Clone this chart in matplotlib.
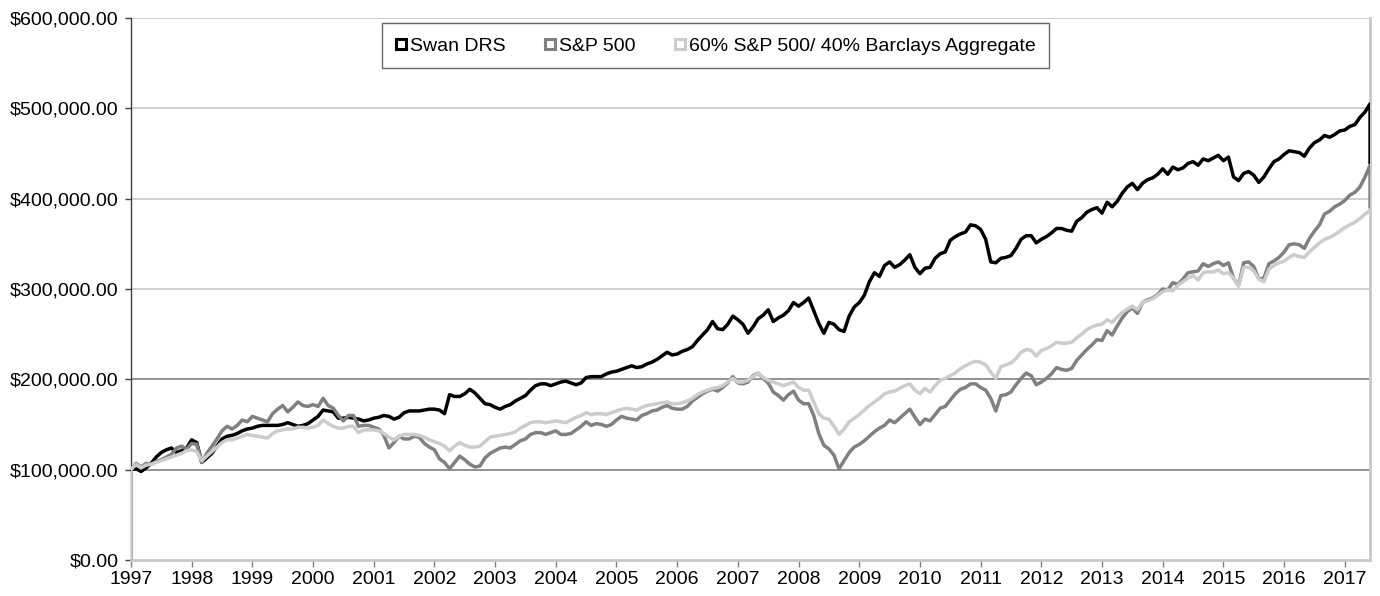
import numpy as np
import matplotlib

matplotlib.use("Agg")

import matplotlib.pyplot as plt
from matplotlib.lines import Line2D
from matplotlib.ticker import FuncFormatter

# monthly growth of $100,000, values in $ thousands, Jan 1997 .. mid 2017
swan_drs = [
    100, 101, 98, 102, 107, 114, 119, 122, 124, 119, 121, 124,
    133, 130, 108, 113, 118, 126, 134, 137, 138, 140, 143, 145,
    146, 148, 149, 149, 149, 149, 150, 152, 150, 148, 149, 151,
    155, 159, 166, 165, 164, 157, 157, 158, 157, 156, 154, 155,
    157, 158, 160, 159, 156, 158, 163, 165, 165, 165, 166, 167,
    167, 166, 162, 183, 181, 181, 184, 189, 185, 179, 173, 172,
    169, 167, 170, 172, 176, 179, 182, 188, 193, 195, 195, 193,
    195, 197, 198, 196, 194, 196, 202, 203, 203, 203, 206, 208,
    209, 211, 213, 215, 213, 214, 217, 219, 222, 226, 230, 227,
    228, 231, 233, 236, 243, 249, 255, 264, 256, 255, 261, 270,
    266, 261, 251, 258, 267, 271, 277, 264, 268, 271, 276, 285,
    281, 285, 290, 276, 262, 251, 263, 261, 255, 253, 270, 280,
    285, 293, 308, 318, 314, 326, 330, 324, 327, 332, 338, 324,
    317, 323, 324, 334, 339, 341, 354, 358, 361, 363, 371, 370,
    366, 355, 330, 329, 334, 335, 337, 345, 355, 359, 359, 351,
    355, 358, 362, 367, 367, 365, 364, 375, 379, 385, 388, 390,
    384, 396, 391, 397, 406, 413, 417, 410, 417, 421, 423, 427,
    433, 427, 435, 432, 434, 439, 441, 437, 444, 442, 445, 448,
    442, 446, 424, 420, 428, 430, 426, 418, 424, 433, 441, 444,
    449, 453, 452, 451, 447, 456, 462, 465, 470, 468, 471, 475,
    476, 480, 482, 490, 496, 505,
]

sp500 = [
    100, 107, 103, 107, 106, 109, 111, 114, 117, 124, 126, 123,
    129, 128, 108, 118, 126, 134, 143, 148, 145, 149, 155, 153,
    159, 157, 155, 153, 162, 167, 171, 164, 169, 175, 171, 170,
    172, 170, 179, 171, 168, 160, 154, 160, 160, 148, 149, 149,
    147, 145, 138, 124, 130, 137, 134, 134, 137, 136, 129, 125,
    122, 112, 108, 101, 108, 115, 111, 106, 103, 104, 113, 118,
    121, 124, 125, 124, 128, 132, 134, 139, 141, 141, 139, 141,
    143, 139, 139, 140, 144, 148, 153, 149, 151, 150, 148, 150,
    155, 159, 157, 156, 155, 160, 162, 165, 166, 169, 171, 168,
    167, 167, 170, 176, 180, 184, 187, 189, 187, 191, 196, 203,
    196, 195, 197, 204, 207, 201, 196, 186, 182, 177, 183, 187,
    177, 173, 173, 160, 140, 127, 123, 116, 101, 110, 119, 125,
    128, 132, 137, 142, 146, 149, 155, 152, 157, 162, 167, 158,
    150, 156, 154, 161, 168, 170, 177, 184, 189, 191, 195, 195,
    191, 188, 179, 165, 182, 183, 186, 194, 201, 207, 204, 194,
    197, 201, 206, 213, 211, 210, 212, 221, 227, 233, 238, 244,
    243, 254, 249, 259, 268, 275, 279, 273, 285, 288, 290, 294,
    300, 299, 307, 305, 311, 318, 319, 320, 328, 325, 328, 330,
    326, 329, 312, 304, 329, 330, 325, 311, 312, 328, 331, 335,
    341, 349, 350, 349, 345, 356, 364, 371, 383, 386, 391, 394,
    398, 404, 407, 413, 424, 437,
]

blend_60_40 = [
    100, 106, 102, 105, 106, 108, 110, 112, 114, 116, 118, 121,
    122, 120, 110, 115, 120, 125, 130, 133, 133, 135, 137, 139,
    138, 137, 136, 135, 140, 143, 144, 145, 145, 147, 147, 146,
    147, 149, 155, 151, 148, 146, 146, 148, 148, 141, 144, 144,
    144, 143, 140, 136, 133, 137, 139, 139, 139, 138, 136, 133,
    131, 129, 126, 121, 126, 130, 127, 125, 125, 126, 131, 136,
    137, 138, 139, 140, 142, 146, 149, 152, 153, 153, 152, 153,
    154, 153, 152, 155, 158, 160, 163, 161, 162, 162, 161, 163,
    165, 167, 168, 167, 166, 169, 171, 172, 173, 174, 175, 173,
    173, 174, 176, 179, 183, 186, 188, 190, 191, 193, 197, 201,
    197, 197, 199, 203, 207, 202, 199, 197, 195, 193, 195, 197,
    191, 188, 188, 175, 162, 157, 156, 148, 139, 145, 153, 157,
    161, 166, 171, 175, 179, 184, 186, 187, 190, 193, 195, 188,
    184, 190, 186, 193, 199, 201, 204, 207, 212, 215, 218, 220,
    219, 216, 208, 201, 214, 216, 218, 223, 230, 233, 232, 226,
    232, 234, 237, 241, 240, 240, 241, 246, 250, 255, 258, 260,
    261, 266, 263, 269, 274, 278, 281, 277, 285, 287, 289, 293,
    297, 299, 298, 304, 308, 312, 315, 310, 318, 319, 319, 321,
    317, 318, 312, 303, 324, 324, 320, 311, 308, 322, 326, 329,
    331, 335, 338, 336, 335, 341, 346, 351, 355, 357, 360, 364,
    368, 371, 374, 378, 383, 387,
]

# the source chart starts every line at $0 and closes two of them with a drop
start_value = 0
swan_end = 440
sp500_end = 391

years = list(range(1997, 2018))
y_ticks = [0, 100000, 200000, 300000, 400000, 500000, 600000]
dark_grid = [100000, 200000]

plt.rcParams["font.family"] = ["Liberation Sans", "DejaVu Sans"]
plt.rcParams["font.size"] = 14


def series_xy(values, end=None):
    months = 1997 + np.arange(len(values)) / 12.0
    x = np.concatenate([[months[0]], months])
    y = np.concatenate([[start_value], np.asarray(values) * 1000.0])
    if end is not None:
        x = np.append(x, months[-1])
        y = np.append(y, end * 1000.0)
    return x, y


fig = plt.figure(figsize=(13.8, 5.96), dpi=100)
ax = fig.add_axes([0.0949, 0.0604, 0.8979, 0.9094])

for level in y_ticks[1:]:
    color = "#808080" if level in dark_grid else "#c8c8c8"
    ax.axhline(level, color=color, linewidth=1.2, zorder=1)

specs = [
    ("Swan DRS", swan_drs, swan_end, "#000000"),
    ("S&P 500", sp500, sp500_end, "#808080"),
    ("60% S&P 500/ 40% Barclays Aggregate", blend_60_40, None, "#cccccc"),
]
for label, values, end, color in specs:
    x, y = series_xy(values, end)
    ax.plot(x, y, color=color, linewidth=2.5, solid_joinstyle="round", zorder=3)

n_months = len(swan_drs) - 1
ax.set_xlim(1997, 1997 + n_months / 12.0)
ax.set_ylim(0, 600000)
ax.set_xticks(years)
ax.set_xticklabels([str(y) for y in years])
ax.set_yticks(y_ticks)
ax.yaxis.set_major_formatter(FuncFormatter(lambda v, _: f"${v:,.2f}"))

ax.spines["top"].set_visible(False)
ax.spines["left"].set_color("#404040")
ax.spines["left"].set_linewidth(1.0)
ax.spines["bottom"].set_color("#c8c8c8")
ax.spines["bottom"].set_linewidth(2.0)
ax.spines["right"].set_color("#c8c8c8")
ax.spines["right"].set_linewidth(2.0)
ax.tick_params(axis="y", length=4, width=1, color="#404040", pad=5)
ax.tick_params(axis="x", length=5, width=1, color="#808080", pad=3)

handles = [
    Line2D([], [], linestyle="none", marker="s", markersize=7.5,
           markerfacecolor="white", markeredgecolor=color, markeredgewidth=2.2)
    for _, _, _, color in specs
]
leg = fig.legend(handles, [s[0] for s in specs], ncol=3,
                 loc="center", bbox_to_anchor=(0.5185, 0.923),
                 frameon=True, fancybox=False, handlelength=0.6,
                 handletextpad=0.15, columnspacing=2.0, borderpad=0.7,
                 fontsize=14)
leg.get_frame().set_edgecolor("#404040")
leg.get_frame().set_linewidth(1.0)

fig.savefig("out.png", dpi=100)
plt.close(fig)
